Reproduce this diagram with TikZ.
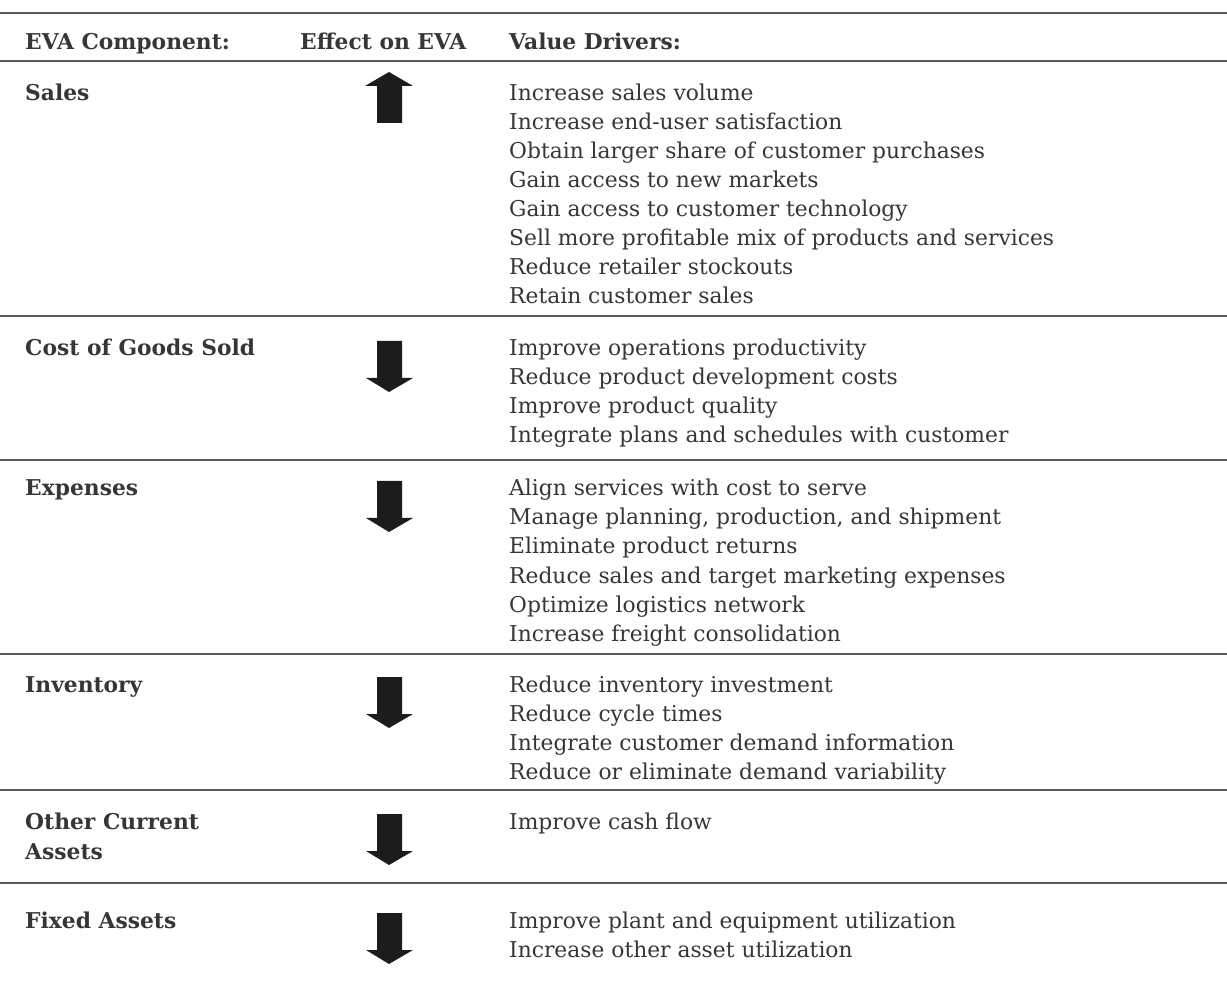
\documentclass[tikz,border=0pt]{standalone}
\usepackage{fontspec}
\setmainfont{DejaVu Serif}
\definecolor{txt}{HTML}{363636}
\definecolor{rule}{HTML}{5A5A5A}
\definecolor{arr}{HTML}{1C1C1C}
\begin{document}
\begin{tikzpicture}[x=1pt,y=-1pt,
  every node/.style={inner sep=0pt,anchor=base west,text=txt,font=\fontsize{21.8}{26}\selectfont},
  hd/.style={font=\fontsize{21.8}{26}\selectfont\bfseries},
  rulel/.style={draw=rule,line width=1.8pt},
  arrowfill/.style={fill=arr}]
\useasboundingbox (0,0) rectangle (1227,981);
% rules
\foreach \y in {13,61,316,460,654,790,883} \draw[rulel] (0,\y) -- (1227,\y);
% header
\node[hd] (h1) at (25,50) {EVA Component:};
\node[hd] (h2) at (300,50) {Effect on EVA};
\node[hd] (h3) at (509,50) {Value Drivers:};
% components
\node[hd] (c1) at (25,101) {Sales};
\node[hd] (c2) at (25,356) {Cost of Goods Sold};
\node[hd] (c3) at (25,496) {Expenses};
\node[hd] (c4) at (25,692) {Inventory};
\node[hd] (c5) at (25,829) {Other Current};
\node[hd] (c5b) at (25,859) {Assets};
\node[hd] (c6) at (25,928) {Fixed Assets};
% up arrow
\fill[arrowfill] (377,123) -- (377,86) -- (365,86) -- (389,72) -- (413,86) -- (402,86) -- (402,123) -- cycle;
% down arrows
\foreach \t in {341,481,677,814,913}
  \fill[arrowfill] (377,\t) -- (402,\t) -- (402,\t+37) -- (413,\t+37) -- (389,\t+51) -- (366,\t+37) -- (377,\t+37) -- cycle;
% drivers
\node (d11) at (509,101) {Increase sales volume};
\node (d12) at (509,130) {Increase end-user satisfaction};
\node (d13) at (509,159) {Obtain larger share of customer purchases};
\node (d14) at (509,188) {Gain access to new markets};
\node (d15) at (509,217) {Gain access to customer technology};
\node (d16) at (509,246) {Sell more profitable mix of products and services};
\node (d17) at (509,275) {Reduce retailer stockouts};
\node (d18) at (509,304) {Retain customer sales};
\node (d21) at (509,356) {Improve operations productivity};
\node (d22) at (509,385) {Reduce product development costs};
\node (d23) at (509,414) {Improve product quality};
\node (d24) at (509,443) {Integrate plans and schedules with customer};
\node (d31) at (509,496) {Align services with cost to serve};
\node (d32) at (509,525) {Manage planning, production, and shipment};
\node (d33) at (509,554) {Eliminate product returns};
\node (d34) at (509,583) {Reduce sales and target marketing expenses};
\node (d35) at (509,612) {Optimize logistics network};
\node (d36) at (509,641) {Increase freight consolidation};
\node (d41) at (509,692) {Reduce inventory investment};
\node (d42) at (509,721) {Reduce cycle times};
\node (d43) at (509,750) {Integrate customer demand information};
\node (d44) at (509,779) {Reduce or eliminate demand variability};
\node (d51) at (509,829) {Improve cash flow};
\node (d61) at (509,928) {Improve plant and equipment utilization};
\node (d62) at (509,957) {Increase other asset utilization};
\end{tikzpicture}
\end{document}
